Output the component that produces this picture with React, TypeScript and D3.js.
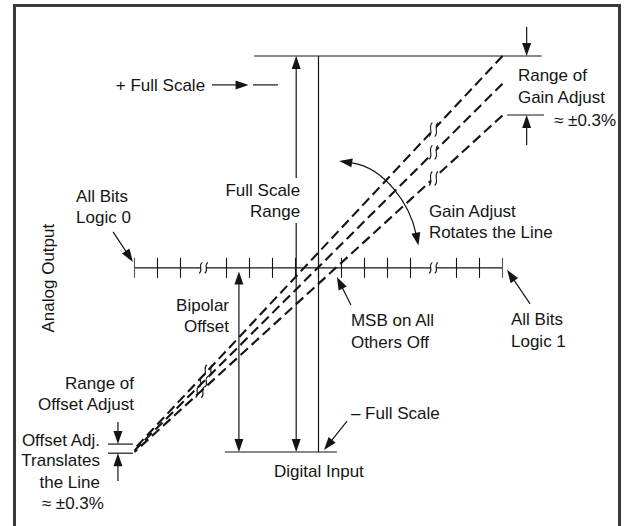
import * as d3 from 'd3';

// Digital input codes along the axis (0 = all bits logic 0, 16 = all bits logic 1)
const tickCodes = [0, 1, 2, 4, 5, 6, 7, 8, 9, 10, 11, 12, 14, 15, 16];
const breakCodes = [3, 13];
const axisLevel = 46.5; // analog output at which the digital input axis sits
const msbCode = 8;

// Transfer lines (code, analog output) — high gain, nominal, low gain
const transferLines = [
  { name: 'high', start: [0, 0.8], end: [16, 100] },
  { name: 'nominal', start: [0, 0.4], end: [16, 93] },
  { name: 'low', start: [0, 0], end: [16, 85] },
];
const lineBreaksTop = [13, 13, 13];
const lineBreaksBottom = [3.2, 3.0, 2.85];

// Reference levels (solid rules) in code / output units
const rules = [
  { x1: 5.2, x2: 17.7, y1: 100, y2: 100 },
  { x1: 5.15, x2: 6.24, y1: 92.7, y2: 92.7 },
  { x1: 16.2, x2: 17.8, y1: 85.1, y2: 85.1 },
  { x1: 3.93, x2: 8.8, y1: 0, y2: 0 },
  { x1: msbCode, x2: msbCode, y1: 0, y2: 100 },
  { x1: -1.15, x2: -0.07, y1: 2.0, y2: 2.0 },
  { x1: -1.15, x2: -0.07, y1: -0.3, y2: -0.3 },
];

// Pointer arrows: head at "to"
const arrows = [
  { from: [3.37, 92.7], to: [4.96, 92.7] },
  { from: [7.03, 69.2], to: [7.03, 100] },
  { from: [7.03, 57.8], to: [7.03, 0] },
  { from: [4.54, 22], to: [4.54, 45.6] },
  { from: [4.54, 22], to: [4.54, 0] },
  { from: [17.05, 107.3], to: [17.05, 100] },
  { from: [17.05, 77.5], to: [17.05, 85.1] },
  { from: [-0.72, 7.6], to: [-0.72, 2.0] },
  { from: [-0.72, -7.3], to: [-0.72, -0.3] },
  { from: [-0.93, 55.6], to: [-0.07, 48.0] },
  { from: [9.41, 37.1], to: [8.8, 44.2] },
  { from: [17.2, 37.4], to: [16.2, 46.0] },
  { from: [9.24, 7.8], to: [8.24, 0.5] },
];

// Gain-adjust rotation arc (cubic control points)
const gainArc = [
  [9.46, 73.0],
  [10.89, 71.7],
  [11.98, 62.4],
  [12.24, 55.1],
];

type Label = { t: string; x: number; y: number; a: 'start' | 'middle' | 'end' };
const labels: Label[] = [
  { t: '+ Full Scale', x: 3.07, y: 91.2, a: 'end' },
  { t: 'Full Scale', x: 7.2, y: 64.6, a: 'end' },
  { t: 'Range', x: 7.2, y: 59.3, a: 'end' },
  { t: 'Range of', x: 16.67, y: 93.7, a: 'start' },
  { t: 'Gain Adjust', x: 16.67, y: 88.1, a: 'start' },
  { t: '≈ ±0.3%', x: 18.24, y: 82.3, a: 'start' },
  { t: 'All Bits', x: -2.54, y: 63.1, a: 'start' },
  { t: 'Logic 0', x: -2.54, y: 57.8, a: 'start' },
  { t: 'Gain Adjust', x: 12.8, y: 59.3, a: 'start' },
  { t: 'Rotates the Line', x: 12.8, y: 54.0, a: 'start' },
  { t: 'Bipolar', x: 4.11, y: 35.6, a: 'end' },
  { t: 'Offset', x: 4.11, y: 30.3, a: 'end' },
  { t: 'MSB on All', x: 9.41, y: 31.8, a: 'start' },
  { t: 'Others Off', x: 9.41, y: 26.3, a: 'start' },
  { t: 'All Bits', x: 16.37, y: 32.1, a: 'start' },
  { t: 'Logic 1', x: 16.37, y: 26.5, a: 'start' },
  { t: '– Full Scale', x: 9.41, y: 8.3, a: 'start' },
  { t: 'Digital Input', x: 8.02, y: -6.3, a: 'middle' },
  { t: 'Range of', x: -0.02, y: 15.9, a: 'end' },
  { t: 'Offset Adjust', x: -0.02, y: 10.6, a: 'end' },
  { t: 'Offset Adj.', x: -1.5, y: 1.5, a: 'end' },
  { t: 'Translates', x: -1.5, y: -3.5, a: 'end' },
  { t: 'the Line', x: -1.5, y: -9.1, a: 'end' },
  { t: '≈ ±0.3%', x: -1.33, y: -14.4, a: 'end' },
];
const yTitle = { t: 'Analog Output', x: -3.5, y: 43.9 };

const INK = '#151515';

function head(tx: number, ty: number, fx: number, fy: number, len = 13, hw = 4.5) {
  const dx = tx - fx;
  const dy = ty - fy;
  const d = Math.hypot(dx, dy) || 1;
  const ux = dx / d;
  const uy = dy / d;
  const bx = tx - ux * len;
  const by = ty - uy * len;
  return `M${tx},${ty}L${bx - uy * hw},${by + ux * hw}L${bx + uy * hw},${by - ux * hw}Z`;
}

function sCurve(cx: number, cy: number, h: number) {
  return `M${cx + 1.6},${cy - h / 2}C${cx - 3.2},${cy - h / 6} ${cx + 3.2},${cy + h / 6} ${cx - 1.6},${cy + h / 2}`;
}

function Break({ cx, cy, h }: { cx: number; cy: number; h: number }) {
  return (
    <g>
      <rect x={cx - 2.6} y={cy - h / 2} width={5.2} height={h} fill="#fff" />
      <path d={sCurve(cx - 2.8, cy, h)} fill="none" stroke={INK} strokeWidth={1.1} />
      <path d={sCurve(cx + 2.8, cy, h)} fill="none" stroke={INK} strokeWidth={1.1} />
    </g>
  );
}

export default function App() {
  const W = 627;
  const H = 526;
  const x = d3.scaleLinear().domain([0, 16]).range([134.5, 502.5]);
  const y = d3.scaleLinear().domain([0, 100]).range([452, 56]);

  const arc = d3.path();
  arc.moveTo(x(gainArc[0][0]), y(gainArc[0][1]));
  arc.bezierCurveTo(
    x(gainArc[1][0]), y(gainArc[1][1]),
    x(gainArc[2][0]), y(gainArc[2][1]),
    x(gainArc[3][0]), y(gainArc[3][1]),
  );
  const p0 = [x(gainArc[0][0]), y(gainArc[0][1])];
  const p1 = [x(gainArc[1][0]), y(gainArc[1][1])];
  const p2 = [x(gainArc[2][0]), y(gainArc[2][1])];
  const p3 = [x(gainArc[3][0]), y(gainArc[3][1])];
  const tipL = (() => {
    const d = Math.hypot(p0[0] - p1[0], p0[1] - p1[1]);
    return [p0[0] + ((p0[0] - p1[0]) / d) * 13, p0[1] + ((p0[1] - p1[1]) / d) * 13];
  })();
  const tipR = (() => {
    const d = Math.hypot(p3[0] - p2[0], p3[1] - p2[1]);
    return [p3[0] + ((p3[0] - p2[0]) / d) * 12, p3[1] + ((p3[1] - p2[1]) / d) * 12];
  })();

  const lineAt = (i: number, c: number) => {
    const l = transferLines[i];
    const k = (c - l.start[0]) / (l.end[0] - l.start[0]);
    return l.start[1] + k * (l.end[1] - l.start[1]);
  };

  const ay = y(axisLevel);

  return (
    <svg
      width={W}
      height={H}
      style={{ position: 'fixed', left: 0, top: 0, background: '#fff' }}
      fontFamily="'Liberation Sans', Arial, Helvetica, sans-serif"
      fontSize={17}
    >
      <rect x={0} y={0} width={W} height={H} fill="#fff" />
      <rect x={14.5} y={5.5} width={605} height={540} fill="none" stroke="#3a3a3a" strokeWidth={3} />

      {/* digital input axis */}
      <line x1={x(0)} x2={x(16)} y1={ay} y2={ay} stroke={INK} strokeWidth={1.3} />
      {tickCodes.map((c) => (
        <line
          key={c}
          x1={x(c)}
          x2={x(c)}
          y1={ay - 10}
          y2={ay + 10}
          stroke={c === 0 || c === 16 ? '#555' : INK}
          strokeWidth={1.1}
        />
      ))}

      {/* reference rules */}
      {rules.map((r, i) => (
        <line
          key={i}
          x1={x(r.x1)}
          x2={x(r.x2)}
          y1={y(r.y1)}
          y2={y(r.y2)}
          stroke={INK}
          strokeWidth={1.2}
        />
      ))}

      {/* transfer lines */}
      {transferLines.map((l) => (
        <line
          key={l.name}
          x1={x(l.end[0])}
          y1={y(l.end[1])}
          x2={x(l.start[0])}
          y2={y(l.start[1])}
          stroke={INK}
          strokeWidth={2.1}
          strokeDasharray="10 5"
        />
      ))}

      {/* break marks */}
      {breakCodes.map((c) => (
        <Break key={c} cx={x(c)} cy={ay} h={11} />
      ))}
      {lineBreaksTop.map((c, i) => (
        <Break key={'t' + i} cx={x(c)} cy={y(lineAt(i, c))} h={14} />
      ))}
      {lineBreaksBottom.map((c, i) => (
        <g key={'b' + i}>
          <path d={sCurve(x(c) - 2.8, y(lineAt(i, c)), 11)} fill="none" stroke={INK} strokeWidth={1.1} />
          <path d={sCurve(x(c) + 2.8, y(lineAt(i, c)), 11)} fill="none" stroke={INK} strokeWidth={1.1} />
        </g>
      ))}

      {/* arrows */}
      {arrows.map((a, i) => {
        const fx = x(a.from[0]);
        const fy = y(a.from[1]);
        const tx = x(a.to[0]);
        const ty = y(a.to[1]);
        const d = Math.hypot(tx - fx, ty - fy);
        const ex = tx - ((tx - fx) / d) * 6;
        const ey = ty - ((ty - fy) / d) * 6;
        return (
          <g key={i}>
            <line x1={fx} y1={fy} x2={ex} y2={ey} stroke={INK} strokeWidth={1.2} />
            <path d={head(tx, ty, fx, fy)} fill={INK} />
          </g>
        );
      })}

      {/* gain adjust arc */}
      <path d={arc.toString()} fill="none" stroke={INK} strokeWidth={1.2} />
      <path d={head(tipL[0], tipL[1], p1[0], p1[1])} fill={INK} />
      <path d={head(tipR[0], tipR[1], p2[0], p2[1])} fill={INK} />

      {/* labels */}
      {labels.map((l, i) => (
        <text key={i} x={x(l.x)} y={y(l.y)} textAnchor={l.a} fill={INK}>
          {l.t}
        </text>
      ))}
      <text
        transform={`translate(${x(yTitle.x)},${y(yTitle.y)}) rotate(-90)`}
        textAnchor="middle"
        fill={INK}
      >
        {yTitle.t}
      </text>
    </svg>
  );
}
